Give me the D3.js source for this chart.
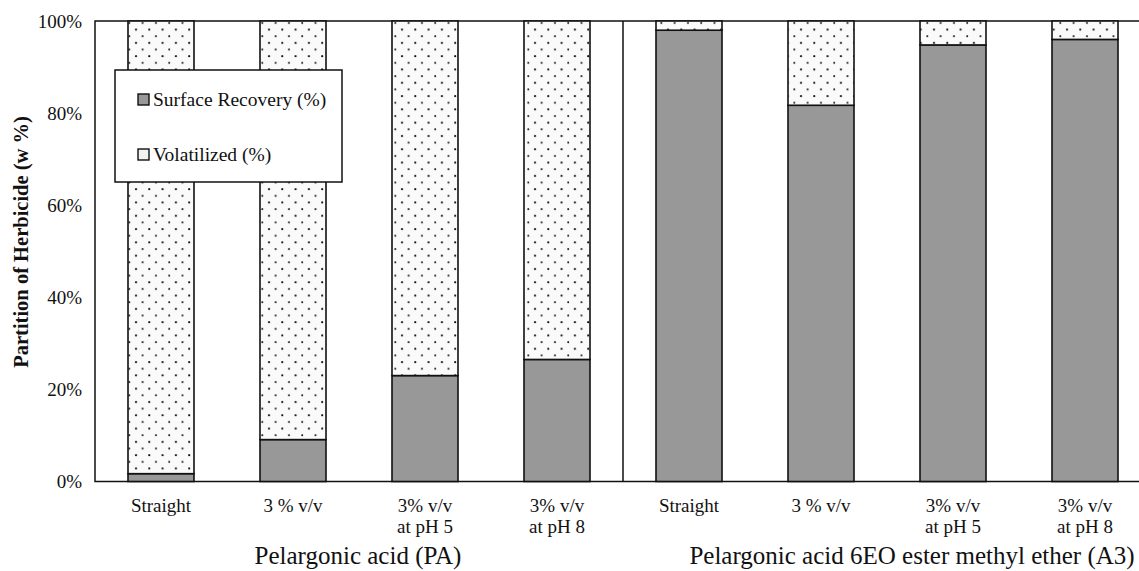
<!DOCTYPE html>
<html lang="en">
<head>
<meta charset="UTF-8">
<script src="https://d3js.org/d3.v7.min.js"></script>
<style>
  body { margin: 0; background: #fff; }
  text { font-family: "Liberation Serif", "Times New Roman", serif; fill: #111; }
</style>
</head>
<body>
<div id="my_dataviz"></div>
<script>
// categories, two groups of four
const categories = ["PA-Straight", "PA-3", "PA-pH5", "PA-pH8", "A3-Straight", "A3-3", "A3-pH5", "A3-pH8"];
const catLabels = [["Straight"], ["3 % v/v"], ["3% v/v", "at pH 5"], ["3% v/v", "at pH 8"],
                   ["Straight"], ["3 % v/v"], ["3% v/v", "at pH 5"], ["3% v/v", "at pH 8"]];
const groups = ["Pelargonic acid (PA)", "Pelargonic acid 6EO ester methyl ether (A3)"];
// surface recovery (%) — volatilized is the rest up to 100
const surface = [1.7, 9.1, 23, 26.5, 98, 81.7, 94.8, 96];
const yTicks = [0, 20, 40, 60, 80, 100];

const W = 1139, H = 571;
const margin = {top: 21, left: 95, bottom: 89};

const svg = d3.select("#my_dataviz")
  .append("svg")
    .attr("width", W)
    .attr("height", H);

// dotted pattern for volatilized
const defs = svg.append("defs");
const pat = defs.append("pattern")
    .attr("id", "dots")
    .attr("patternUnits", "userSpaceOnUse")
    .attr("width", 13.3)
    .attr("height", 13.3);
pat.append("rect").attr("width", 13.3).attr("height", 13.3).attr("fill", "#fafafa");
pat.append("circle").attr("cx", 3).attr("cy", 3).attr("r", 1.1).attr("fill", "#111");
pat.append("circle").attr("cx", 9.65).attr("cy", 9.65).attr("r", 1).attr("fill", "#222");

const x = d3.scaleBand()
  .domain(categories)
  .range([95, 95 + 132 * 8])
  .paddingInner(0.5)
  .paddingOuter(0.25);

const y = d3.scaleLinear()
  .domain([0, 100])
  .range([H - margin.bottom - 0.5, margin.top]);

// frame
svg.append("rect")
  .attr("x", 95).attr("y", y(100))
  .attr("width", 132 * 8).attr("height", y(0) - y(100))
  .attr("fill", "none").attr("stroke", "#111").attr("stroke-width", 1.5);

// separator between groups
svg.append("line")
  .attr("x1", 95 + 132 * 4).attr("x2", 95 + 132 * 4)
  .attr("y1", y(100)).attr("y2", y(0))
  .attr("stroke", "#111").attr("stroke-width", 1.5);

// bars
const bars = svg.append("g");
bars.selectAll(".surf")
  .data(categories)
  .join("rect")
    .attr("x", d => x(d))
    .attr("width", x.bandwidth())
    .attr("y", (d, i) => y(surface[i]))
    .attr("height", (d, i) => y(0) - y(surface[i]))
    .attr("fill", "#989898")
    .attr("stroke", "#111")
    .attr("stroke-width", 1.6);
bars.selectAll(".vol")
  .data(categories)
  .join("rect")
    .attr("x", d => x(d))
    .attr("width", x.bandwidth())
    .attr("y", y(100))
    .attr("height", (d, i) => y(surface[i]) - y(100))
    .attr("fill", "url(#dots)")
    .attr("stroke", "#111")
    .attr("stroke-width", 1.6);

// y axis labels
const yAxis = svg.append("g")
  .attr("transform", "translate(95,0)")
  .call(d3.axisLeft(y).tickValues(yTicks).tickFormat(d => d + "%").tickSize(0).tickPadding(13));
yAxis.select(".domain").remove();
yAxis.selectAll("text")
  .style("font-family", "'Liberation Serif', serif")
  .style("font-size", "19px")
  .attr("fill", "#111");

svg.append("text")
  .attr("transform", "translate(28,242) rotate(-90)")
  .attr("text-anchor", "middle")
  .style("font-size", "20.5px")
  .style("font-weight", "bold")
  .text("Partition of Herbicide (w %)");

// category labels
const xl = svg.append("g");
categories.forEach((c, i) => {
  const cx = x(c) + x.bandwidth() / 2;
  const t = xl.append("text")
    .attr("x", cx)
    .attr("y", 512)
    .attr("text-anchor", "middle")
    .style("font-size", "19px");
  catLabels[i].forEach((line, j) => {
    t.append("tspan").attr("x", cx).attr("dy", j === 0 ? 0 : 21).text(line);
  });
});

// group labels
const groupShift = [-1, 25];
groups.forEach((g, i) => {
  const members = categories.slice(i * 4, i * 4 + 4);
  const gc = d3.mean(members, c => x(c) + x.bandwidth() / 2);
  svg.append("text")
    .attr("x", gc + groupShift[i])
    .attr("y", 564)
    .attr("text-anchor", "middle")
    .style("font-size", "25px")
    .text(g);
});

// legend
const lg = svg.append("g");
lg.append("rect")
  .attr("x", 115).attr("y", 70).attr("width", 227).attr("height", 112)
  .attr("fill", "#fff").attr("stroke", "#111").attr("stroke-width", 1.5);
const legendItems = [
  {label: "Surface Recovery (%)", fill: "#989898", yy: 99},
  {label: "Volatilized (%)", fill: "#f2f2f2", yy: 154}
];
legendItems.forEach(it => {
  lg.append("rect")
    .attr("x", 138).attr("y", it.yy - 5).attr("width", 11).attr("height", 11)
    .attr("fill", it.fill).attr("stroke", "#111").attr("stroke-width", 1.4);
  lg.append("text")
    .attr("x", 153).attr("y", it.yy + 7)
    .style("font-size", "19.5px")
    .text(it.label);
});
</script>
</body>
</html>
